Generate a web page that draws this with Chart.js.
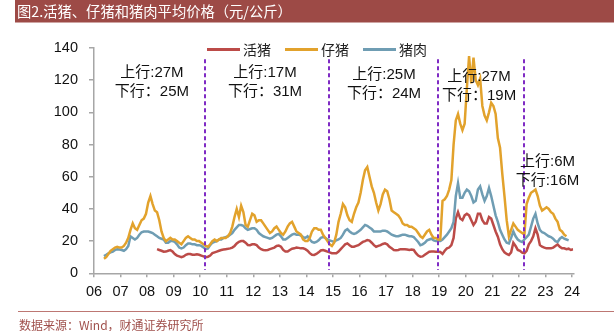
<!DOCTYPE html>
<html>
<head>
<meta charset="utf-8">
<script src="https://cdn.jsdelivr.net/npm/chart.js@4.4.1/dist/chart.umd.min.js"></script>
<style>
  html, body { margin: 0; padding: 0; background: #fff; }
  canvas { display: block; }
</style>
</head>
<body>
<canvas id="pigChart" width="614" height="331"></canvas>
<script>
// Monthly average prices, yuan/kg
const seriesNames = ['活猪', '仔猪', '猪肉'];
const seriesColors = ['#BC4B48', '#E2A22C', '#6F9DB3'];

const hogStart = '2008-05';
const hogPrice = [
  15, 14.5, 14, 13.4, 13.5, 14, 14.4, 13.5,
  12, 11, 10.5, 10, 10.5, 11.5, 12, 12, 11.5, 11.5, 11.8, 11.5,
  11, 10.5, 10, 10.3, 11, 12.5, 13, 13.5, 14, 14.5, 14.8, 15,
  15.2, 15.5, 16, 17, 18.5, 19.6, 20, 20, 19, 17.6, 17.5, 18,
  18, 17.5, 16, 15, 14.5, 14.3, 14.5, 15, 15.5, 16, 17, 17.2,
  16.5, 14.5, 13.5, 13.5, 14.5, 15.3, 15.5, 16, 15.8, 15.5, 15.5, 15,
  14, 12.5, 11.5, 11.4, 12, 13, 14.2, 14.5, 14, 13.5, 13, 12.5,
  12.4, 12.5, 13.5, 15, 16.5, 18, 18.6, 17.5, 16.5, 16.5, 17, 17.5,
  18.5, 19.5, 20, 20.7, 20.3, 19, 17.5, 16.5, 17, 17.5, 18.2, 18.6,
  18, 16.5, 15.5, 14.5, 14.3, 14.5, 15, 15, 15, 14.8, 14.5, 14.8,
  14.5, 12.5, 11, 10.3, 10.5, 11.5, 12.5, 13.4, 13.5, 13.5, 13.4, 13.4,
  13.2, 12, 14, 15.5, 16, 17.5, 22, 34, 38, 34, 33, 36,
  37, 36, 33, 30, 32, 37, 37, 33, 31, 31, 35, 34,
  30, 26, 22.7, 18, 15, 13, 12, 11.4, 13, 19, 17, 14.5,
  14, 12.8, 12.4, 14, 18, 20, 23, 28, 24, 17.5, 16.5, 16,
  15.5, 15.5, 15.5, 16, 17, 18, 16.5, 15.5, 15.5, 15, 15.3, 14.5,
  14.9
];

const pigletStart = '2006-05';
const pigletPrice = [
  9, 10, 12, 14, 15, 16, 16.5, 16,
  16, 17, 19, 22, 27, 31, 28, 27, 30, 33, 34, 37,
  44, 48, 43, 39, 38, 33, 26, 22, 20, 21, 22, 21,
  21, 20, 19, 18, 20, 22, 23, 22, 21, 21, 20, 20,
  19, 18, 17, 16.5, 18, 20, 21, 20, 21, 22, 22, 22,
  23, 25, 29, 35, 40, 35, 42, 38, 30, 29, 33, 37,
  36, 32, 33, 33, 31, 29, 27, 25, 26, 28, 29, 27,
  25, 24, 26, 29, 31, 32, 29, 26, 25, 24, 21, 20,
  20, 22, 26, 28, 28, 27, 27, 24, 22, 20, 18, 17,
  19, 24, 32, 37, 43, 41, 36, 33, 32, 37, 41, 44,
  50, 58, 64, 66, 60, 54, 50, 44, 39, 43, 49, 52,
  51, 46, 39, 38, 37, 36, 34, 31, 30, 30, 29, 29,
  28, 27, 25, 23, 22, 24, 26, 27, 24, 22, 22, 21,
  21, 45, 46, 48, 52, 58, 80, 95, 99, 93, 89, 93,
  115, 135, 118, 134, 120, 117, 121, 104, 98, 95, 100, 106,
  104, 99, 84, 78, 62, 48, 33, 23, 27, 31, 29, 27,
  26, 25, 24, 43, 47, 50, 51, 52, 48, 42, 39, 40,
  41, 40, 38, 37, 34, 32, 27, 26, 24, 23
];

const porkStart = '2006-05';
const porkPrice = [
  10.7, 11.5, 12.4, 13, 13.5, 14.5, 15, 14.8,
  14.5, 14, 15, 17, 23, 22, 21, 22, 24, 25.5, 26, 26,
  26, 25.5, 25, 24, 23, 22, 21.5, 21, 19, 19, 20, 20,
  19.5, 18, 16, 15.5, 16, 17.5, 18.5, 18.5, 18, 18, 17.5, 17.5,
  17, 16, 15, 15.5, 17.5, 19, 19.5, 20, 21, 21, 22, 22.5,
  23, 24, 25, 27, 28.5, 30, 30, 29.5, 28, 27, 27.5, 28,
  28, 27, 25, 24, 23, 22.5, 22, 21.5, 22, 23, 24, 24.5,
  23, 21, 21, 22, 23, 24, 24.5, 24, 24, 23.5, 22.5, 22,
  23, 21, 19.5, 19, 19.5, 20.5, 22, 22.5, 22, 21, 20.5, 20,
  19.5, 20.5, 21, 22, 24, 26.5, 27.5, 26, 25, 24.5, 25, 26,
  27, 28.5, 30, 29.5, 28.5, 27.5, 26, 26, 26, 26, 26.5, 26.5,
  26, 25, 24, 23.5, 23, 23, 23.5, 24, 24, 23.5, 23, 23,
  22.5, 21, 19.5, 17.5, 18, 19, 20.5, 21, 21.5, 20.5, 20, 20,
  20, 21, 22.5, 24, 26, 28, 32, 48, 56, 47, 47, 50,
  52, 51, 48, 44, 45, 52, 54, 49, 45, 48, 53, 48,
  42, 36, 32, 27, 24, 21, 19, 18.5, 22, 26, 23, 21,
  20, 19.5, 21, 22.5, 24, 29, 34, 37, 31, 27, 25.5, 25,
  24, 23, 22.5, 21.5, 20, 19.5, 21.5, 22.5, 21.5, 21, 20.5
];

const yTicks = [0, 20, 40, 60, 80, 100, 120, 140];
const xTicks = [2006, 2007, 2008, 2009, 2010, 2011, 2012, 2013, 2014, 2015,
  2016, 2017, 2018, 2019, 2020, 2021, 2022, 2023, 2024];

// cycle boundaries (purple dashed lines)
const cycleBreaks = [2010.18, 2014.86, 2018.97, 2022.18];
const cycleNotes = [
  { x: 2008.18, y: 124.6, lines: ['上行:27M', '下行：25M'] },
  { x: 2012.44, y: 124.4, lines: ['上行:17M', '下行：31M'] },
  { x: 2016.92, y: 123.2, lines: ['上行:25M', '下行：24M'] },
  { x: 2020.50, y: 122.1, lines: ['上行:27M', '下行：19M'] },
  { x: 2023.08, y: 69.3, lines: ['上行:6M', '下行:16M'] }
];

function monthly(start, values) {
  const [y0, m0] = start.split('-').map(Number);
  return values.map((v, i) => ({ x: y0 + (m0 - 1 + i + 0.5) / 12, y: v }));
}

const CJK = '"Noto Sans CJK SC", "Noto Sans", sans-serif';

const decor = {
  id: 'decor',
  beforeDraw(chart) {
    const ctx = chart.ctx;
    ctx.save();
    ctx.fillStyle = '#fff';
    ctx.fillRect(0, 0, chart.width, chart.height);
    // title bar
    ctx.fillStyle = '#9D4A46';
    ctx.fillRect(15, 0, chart.width - 15, 22.5);
    ctx.fillStyle = '#fff';
    ctx.font = '14.3px ' + CJK;
    ctx.textBaseline = 'middle';
    ctx.fillText('图2.活猪、仔猪和猪肉平均价格（元/公斤）', 17, 11.5);
    // source line
    ctx.strokeStyle = '#BD7773';
    ctx.lineWidth = 1;
    ctx.beginPath();
    ctx.moveTo(18, 311.5);
    ctx.lineTo(chart.width, 311.5);
    ctx.stroke();
    ctx.fillStyle = '#A0504C';
    ctx.font = '12px ' + CJK;
    ctx.fillText('数据来源：Wind，财通证券研究所', 19, 325);
    ctx.restore();
  },
  afterDatasetsDraw(chart) {
    const ctx = chart.ctx;
    const xs = chart.scales.x, ys = chart.scales.y;
    ctx.save();
    // dashed cycle lines
    ctx.strokeStyle = '#7F2BC4';
    ctx.lineWidth = 2;
    ctx.setLineDash([4, 3]);
    cycleBreaks.forEach(v => {
      const px = Math.round(xs.getPixelForValue(v));
      ctx.beginPath();
      ctx.moveTo(px, ys.getPixelForValue(133));
      ctx.lineTo(px, ys.getPixelForValue(2));
      ctx.stroke();
    });
    ctx.setLineDash([]);
    // notes
    ctx.fillStyle = '#111';
    ctx.font = '15px "Liberation Sans", ' + CJK;
    ctx.textAlign = 'center';
    ctx.textBaseline = 'middle';
    cycleNotes.forEach(n => {
      const px = xs.getPixelForValue(n.x);
      const py = ys.getPixelForValue(n.y);
      n.lines.forEach((t, i) => ctx.fillText(t, px, py + i * 19));
    });
    // legend
    const legendX = [207, 285, 363];
    ctx.textAlign = 'left';
    ctx.font = '14px ' + CJK;
    seriesNames.forEach((name, i) => {
      ctx.strokeStyle = seriesColors[i];
      ctx.lineWidth = 3;
      ctx.beginPath();
      ctx.moveTo(legendX[i], 49.5);
      ctx.lineTo(legendX[i] + 33, 49.5);
      ctx.stroke();
      ctx.fillStyle = '#222';
      ctx.fillText(name, legendX[i] + 36, 49.5);
    });
    ctx.restore();
  }
};

const ds = (i, data) => ({
  label: seriesNames[i],
  data: data,
  borderColor: seriesColors[i],
  backgroundColor: seriesColors[i],
  borderWidth: 2.5,
  pointRadius: 0,
  tension: 0
});

new Chart(document.getElementById('pigChart'), {
  type: 'line',
  data: {
    datasets: [
      ds(1, monthly(pigletStart, pigletPrice)),
      ds(2, monthly(porkStart, porkPrice)),
      ds(0, monthly(hogStart, hogPrice))
    ]
  },
  options: {
    responsive: false,
    animation: false,
    devicePixelRatio: 1,
    layout: { padding: { top: 48, right: 40.7, bottom: 0, left: 0 } },
    plugins: { legend: { display: false }, tooltip: { enabled: false } },
    scales: {
      x: {
        type: 'linear',
        min: 2006,
        max: 2024.05,
        afterFit: s => { s.height = 57.7; },
        afterBuildTicks: s => { s.ticks = xTicks.map(v => ({ value: v })); },
        grid: { display: true, drawOnChartArea: false, tickLength: 4, color: '#A6A6A6', lineWidth: 1.5 },
        border: { display: true, color: '#A6A6A6', width: 1.5 },
        ticks: {
          padding: 6,
          color: '#111',
          font: { family: 'Liberation Sans', size: 14.5 },
          maxRotation: 0,
          autoSkip: false,
          callback: v => String(v % 100).padStart(2, '0')
        }
      },
      y: {
        min: 0,
        max: 140,
        afterFit: s => { s.width = 94; },
        afterBuildTicks: s => { s.ticks = yTicks.map(v => ({ value: v })); },
        grid: { display: true, drawOnChartArea: false, tickLength: 5, color: '#A6A6A6', lineWidth: 1.5 },
        border: { display: true, color: '#A6A6A6', width: 1.5 },
        ticks: {
          padding: 11,
          color: '#111',
          font: { family: 'Liberation Sans', size: 14.5 }
        }
      }
    }
  },
  plugins: [decor]
});
</script>
</body>
</html>
